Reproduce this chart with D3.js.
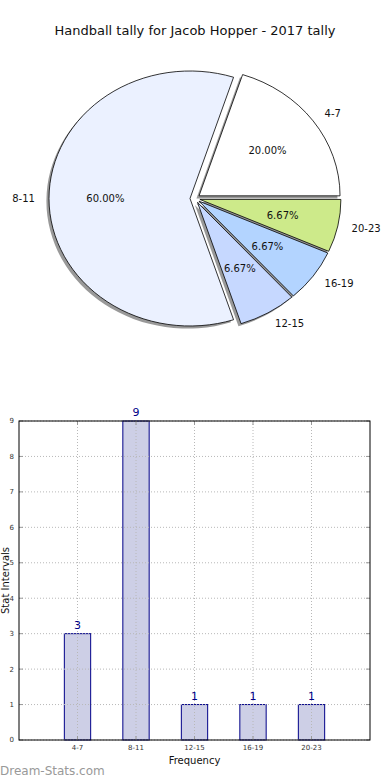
<!DOCTYPE html>
<html><head><meta charset="utf-8">
<script src="https://cdn.jsdelivr.net/npm/d3@7"></script>
<style>body{margin:0;background:#fff}svg{display:block;font-family:"DejaVu Sans",sans-serif}</style>
</head><body>
<svg id="c" width="390" height="780"></svg>
<script>
const categories = ["4-7","8-11","12-15","16-19","20-23"];
const values = [3,9,1,1,1];
const pieColors = ["#ffffff","#ebf1ff","#c6d8ff","#b3d4ff","#cdea8a"];
const yTicks = [0,1,2,3,4,5,6,7,8,9];
const title = "Handball tally for Jacob Hopper - 2017 tally";

const svg = d3.select("#c");
svg.append("text").attr("x",195).attr("y",35).attr("text-anchor","middle")
  .attr("font-size",13).attr("fill","#111").text(title);

// ---- Pie ----
const cx = 195, cy = 198.5, rx = 141, ry = 127.5, k = ry/rx, explode = 5;
const total = d3.sum(values);
const pie = d3.pie().sort(null).startAngle(Math.PI/2).endAngle(Math.PI/2 - 2*Math.PI);
const arcs = pie(values);
const arc = d3.arc().innerRadius(0).outerRadius(rx);
const pg = svg.append("g");
arcs.forEach((a,i)=>{
  const mid = (a.startAngle + a.endAngle)/2;
  const ox = Math.sin(mid)*explode, oy = -Math.cos(mid)*explode*k;
  a.ox = cx+ox; a.oy = cy+oy; a.mid = mid;
});
// shadows
arcs.forEach((a,i)=>{
  pg.append("path").attr("d",arc(a))
    .attr("transform",`translate(${a.ox-2.6},${a.oy+2.6}) scale(1,${k})`)
    .attr("fill","#777").attr("opacity",0.75);
});
arcs.forEach((a,i)=>{
  pg.append("path").attr("d",arc(a))
    .attr("transform",`translate(${a.ox},${a.oy}) scale(1,${k})`)
    .attr("fill",pieColors[i]).attr("stroke","#000").attr("stroke-width",0.8)
    .attr("vector-effect","non-scaling-stroke").attr("stroke-linejoin","round");
});
arcs.forEach((a,i)=>{
  const sx = Math.sin(a.mid), sy = -Math.cos(a.mid);
  const lx = a.ox + 1.1*rx*sx, ly = a.oy + 1.1*ry*sy;
  pg.append("text").attr("x",lx).attr("y",ly).attr("dy","0.35em")
    .attr("text-anchor", sx>0?"start":"end").attr("font-size",10).attr("fill","#111")
    .text(categories[i]);
  const px = a.ox + 0.6*rx*sx, py = a.oy + 0.6*ry*sy;
  pg.append("text").attr("x",px).attr("y",py).attr("dy","0.35em")
    .attr("text-anchor","middle").attr("font-size",10).attr("fill","#111")
    .text((values[i]/total*100).toFixed(2)+"%");
});

// ---- Bar chart ----
const L=19,R=370,T=421,B=740;
const x = d3.scaleLinear().domain([-1,5]).range([L,R]);
const y = d3.scaleLinear().domain([0,9]).range([B,T]);
const bg = svg.append("g");
const bw = x(0.45)-x(0);
bg.selectAll("rect.bar").data(values).join("rect").attr("class","bar")
  .attr("x",(d,i)=>x(i)-bw/2).attr("width",bw)
  .attr("y",d=>y(d)).attr("height",d=>y(0)-y(d))
  .attr("fill","#cdcfe6").attr("stroke","#000088").attr("stroke-width",1);
// grid
const grid = bg.append("g").attr("stroke","#b8b8b8").attr("stroke-dasharray","1,2").attr("stroke-width",1);
categories.forEach((c,i)=>grid.append("line").attr("x1",x(i)).attr("x2",x(i)).attr("y1",T).attr("y2",B));
yTicks.forEach(t=>grid.append("line").attr("x1",L).attr("x2",R).attr("y1",y(t)).attr("y2",y(t)));
// ticks inside
const tk = bg.append("g").attr("stroke","#999").attr("stroke-width",1);
yTicks.forEach(t=>{
  tk.append("line").attr("x1",L).attr("x2",L+4).attr("y1",y(t)).attr("y2",y(t));
  tk.append("line").attr("x1",R-4).attr("x2",R).attr("y1",y(t)).attr("y2",y(t));
});
categories.forEach((c,i)=>{
  tk.append("line").attr("x1",x(i)).attr("x2",x(i)).attr("y1",B).attr("y2",B-4);
  tk.append("line").attr("x1",x(i)).attr("x2",x(i)).attr("y1",T).attr("y2",T+4);
});
// frame
bg.append("rect").attr("x",L).attr("y",T).attr("width",R-L).attr("height",B-T)
  .attr("fill","none").attr("stroke","#000").attr("stroke-width",1);
// tick labels
yTicks.forEach(t=>bg.append("text").attr("x",L-5).attr("y",y(t)).attr("dy","0.35em")
  .attr("text-anchor","end").attr("font-size",7).attr("fill","#333").text(t));
categories.forEach((c,i)=>bg.append("text").attr("x",x(i)).attr("y",B+10)
  .attr("text-anchor","middle").attr("font-size",7).attr("fill","#333").text(c));
// value labels
values.forEach((v,i)=>bg.append("text").attr("x",x(i)).attr("y",y(v)-5)
  .attr("text-anchor","middle").attr("font-size",11).attr("fill","#000088").text(v));
// axis labels
bg.append("text").attr("x",(L+R)/2).attr("y",764).attr("text-anchor","middle")
  .attr("font-size",10).attr("fill","#111").text("Frequency");
bg.append("text").attr("transform",`translate(9,${(T+B)/2}) rotate(-90)`).attr("text-anchor","middle")
  .attr("font-size",10).attr("fill","#111").text("Stat Intervals");
svg.append("text").attr("x",0).attr("y",775).attr("font-size",12)
  .attr("fill","#999").text("Dream-Stats.com");
</script>
</body></html>
